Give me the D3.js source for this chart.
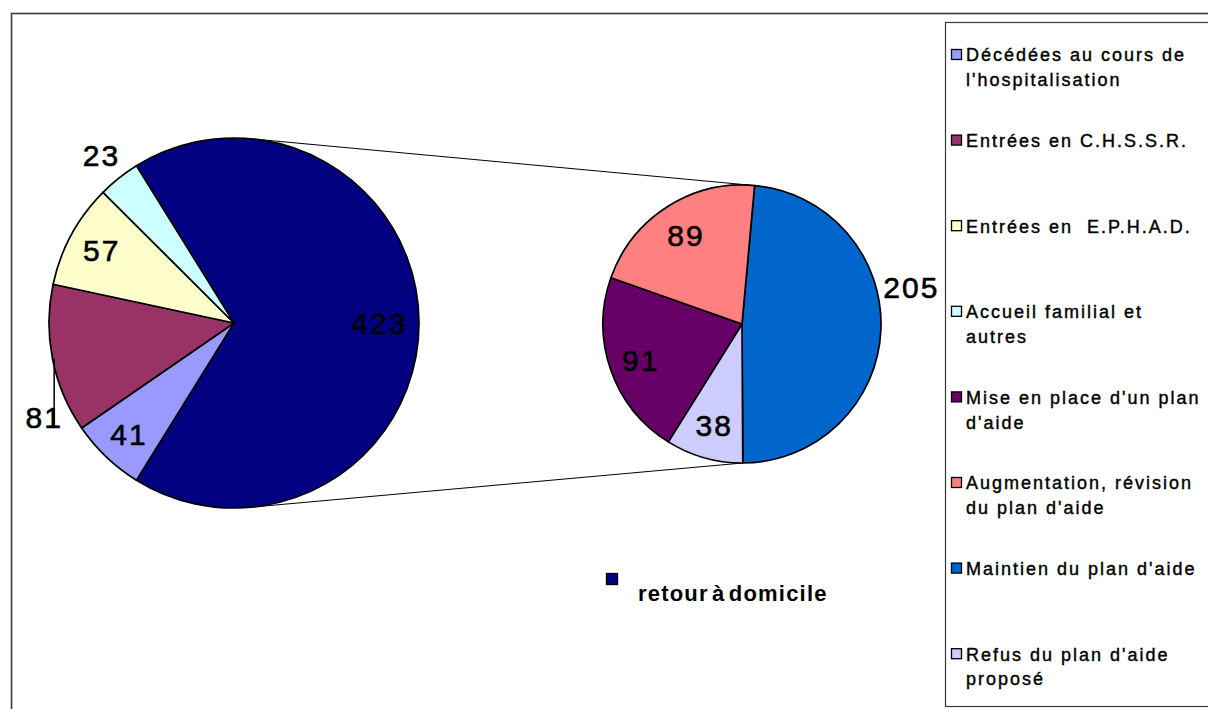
<!DOCTYPE html>
<html>
<head>
<meta charset="utf-8">
<script src="https://cdn.jsdelivr.net/npm/d3@7/dist/d3.min.js"></script>
<style>
  body { margin: 0; background: #fff; }
  svg { display: block; font-family: "Liberation Sans", Arial, sans-serif; }
</style>
</head>
<body>
<div id="chart"></div>
<script>
// first pie (all outcomes, "retour à domicile" grouped)
const mainNames = ["retour à domicile", "Décédées au cours de l'hospitalisation", "Entrées en C.H.S.S.R.", "Entrées en E.P.H.A.D.", "Accueil familial et autres"];
const mainValues = [423, 41, 81, 57, 23];
const mainColors = ["#000080", "#9999FF", "#993366", "#FFFFCC", "#CCFFFF"];

// second pie (detail of "retour à domicile")
const subNames = ["Maintien du plan d'aide", "Refus du plan d'aide proposé", "Mise en place d'un plan d'aide", "Augmentation, révision du plan d'aide"];
const subValues = [205, 38, 91, 89];
const subColors = ["#0066CC", "#CCCCFF", "#660066", "#FF8080"];

// legend (order of the original series)
const legendLines = [
    ["Décédées au cours de", "l'hospitalisation"],
    ["Entrées en C.H.S.S.R."],
    ["Entrées en  E.P.H.A.D."],
    ["Accueil familial et", "autres"],
    ["Mise en place d'un plan", "d'aide"],
    ["Augmentation, révision", "du plan d'aide"],
    ["Maintien du plan d'aide"],
    ["Refus du plan d'aide", "proposé"]
];
const legendColors = ["#9999FF", "#993366", "#FFFFCC", "#CCFFFF", "#660066", "#FF8080", "#0066CC", "#CCCCFF"];

const W = 1208, H = 709;
const deg = Math.PI / 180;

const svg = d3.select("#chart").append("svg")
    .attr("width", W).attr("height", H);

// outer chart frame (runs off the right/bottom edges)
svg.append("rect")
    .attr("x", 11.5).attr("y", 13.5)
    .attr("width", 1400).attr("height", 900)
    .attr("fill", "#fff").attr("stroke", "#3a3a3a").attr("stroke-width", 1.6);

const big = { cx: 234, cy: 323, r: 185 };
const small = { cx: 742, cy: 324, r: 139 };

// "other" slice centred on the right side
const mainShare = mainValues[0] / d3.sum(mainValues);
const mainStart = Math.PI / 2 - mainShare * Math.PI;
const mainPie = d3.pie().sort(null).value(d => d)
    .startAngle(mainStart).endAngle(mainStart + 2 * Math.PI);
const subStart = 5.2 * deg;
const subPie = d3.pie().sort(null).value(d => d)
    .startAngle(subStart).endAngle(subStart + 2 * Math.PI);

const mainArcs = mainPie(mainValues);
const subArcs = subPie(subValues);

const polar = (c, r, a) => [c.cx + r * Math.sin(a), c.cy - r * Math.cos(a)];

// connector lines between the two pies
const tanA = Math.asin((big.r - small.r) / (small.cx - big.cx));
const links = [
    [polar(big, big.r, tanA), polar(small, small.r, subArcs[0].startAngle)],
    [polar(big, big.r, Math.PI - tanA), polar(small, small.r, subArcs[0].endAngle)]
];
svg.selectAll("line.link").data(links).join("line")
    .attr("class", "link")
    .attr("x1", d => d[0][0]).attr("y1", d => d[0][1])
    .attr("x2", d => d[1][0]).attr("y2", d => d[1][1])
    .attr("stroke", "#000").attr("stroke-width", 1);

function drawPie(c, arcs, colors) {
    const arc = d3.arc().innerRadius(0).outerRadius(c.r);
    svg.append("g").attr("transform", `translate(${c.cx},${c.cy})`)
        .selectAll("path").data(arcs).join("path")
        .attr("d", arc)
        .attr("fill", (d, i) => colors[i])
        .attr("stroke", "#000").attr("stroke-width", 1.7)
        .attr("stroke-linejoin", "round");
}
drawPie(big, mainArcs, mainColors);
drawPie(small, subArcs, subColors);

// label placement: radius factor and angle shift (deg) from mid-slice
const mainLabelPos = [[0.78, 0], [0.83, 0], [1.15, -15], [0.82, 0], [1.16, 0]];
const subLabelPos = [[1.24, -14.8], [0.76, 0], [0.78, 0], [0.76, 0]];

function labels(c, arcs, pos) {
    return arcs.map((d, i) => {
        const a = (d.startAngle + d.endAngle) / 2 + pos[i][1] * deg;
        const [x, y] = polar(c, c.r * pos[i][0], a);
        return { x, y, v: d.data };
    });
}
const mainLab = labels(big, mainArcs, mainLabelPos);
const subLab = labels(small, subArcs, subLabelPos);

svg.selectAll("text.val").data(mainLab.concat(subLab)).join("text")
    .attr("class", "val")
    .attr("x", d => d.x + 1).attr("y", d => d.y)
    .attr("dy", "0.36em")
    .attr("text-anchor", "middle")
    .attr("font-size", 30).attr("letter-spacing", 2)
    .attr("fill", "#000").attr("stroke", "#000").attr("stroke-width", 0.6)
    .text(d => d.v);

// leader line for the label placed outside ("81")
{
    const l = mainLab[2];
    const lx = l.x + 11;
    const edge = big.cy + Math.sqrt(big.r * big.r - (lx - big.cx) * (lx - big.cx));
    svg.append("line")
        .attr("x1", lx).attr("y1", edge - 8)
        .attr("x2", lx).attr("y2", l.y + 11)
        .attr("stroke", "#000").attr("stroke-width", 1.5);
}

// series legend on the right
const leg = svg.append("g");
leg.append("rect")
    .attr("x", 945.5).attr("y", 22.5)
    .attr("width", 400).attr("height", 684)
    .attr("fill", "#fff").attr("stroke", "#3a3a3a").attr("stroke-width", 1.2);

const step = 85.6;
const item = leg.selectAll("g.item").data(legendLines).join("g")
    .attr("class", "item")
    .attr("transform", (d, i) => `translate(0,${55 + i * step})`);
item.append("rect")
    .attr("x", 951.5).attr("y", -5.5)
    .attr("width", 10).attr("height", 10)
    .attr("fill", (d, i) => legendColors[i])
    .attr("stroke", "#000").attr("stroke-width", 1.3);
item.selectAll("text").data(d => d).join("text")
    .attr("x", 966).attr("y", (d, j) => j * 25)
    .attr("dy", "0.35em")
    .attr("font-size", 18).attr("letter-spacing", 2)
    .attr("fill", "#000").attr("stroke", "#000").attr("stroke-width", 0.4)
    .style("white-space", "pre")
    .text(d => d);

// legend entry for the grouped slice
svg.append("rect")
    .attr("x", 606.5).attr("y", 573.5)
    .attr("width", 11).attr("height", 11)
    .attr("fill", mainColors[0])
    .attr("stroke", "#000").attr("stroke-width", 1.3);
svg.append("text")
    .attr("x", 638).attr("y", 593).attr("dy", "0.35em")
    .attr("font-size", 22).attr("font-weight", "bold")
    .attr("letter-spacing", 1.2).attr("word-spacing", -4)
    .text(mainNames[0]);
</script>
</body>
</html>
